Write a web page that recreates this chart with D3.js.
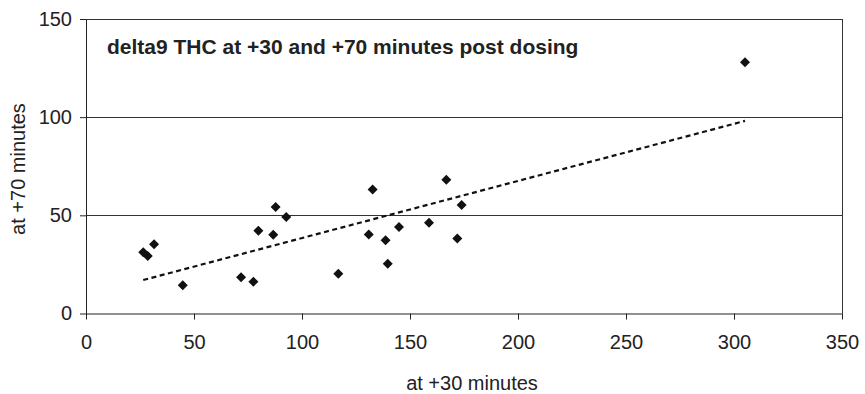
<!DOCTYPE html>
<html>
<head>
<meta charset="utf-8">
<script src="https://cdn.jsdelivr.net/npm/d3@7"></script>
<style>
  body { margin: 0; background: #fff; }
  text { font-family: "Liberation Sans", Arial, sans-serif; fill: #222; }
</style>
</head>
<body>
<div id="chart"></div>
<script>
// values
const at30 = [26.5, 28.6, 31.5, 44.8, 71.8, 77.5, 79.8, 86.7, 87.8, 92.7, 116.8,
  130.9, 132.7, 138.7, 139.7, 144.9, 158.8, 166.8, 171.9, 173.9, 305.1]
const at70 = [31.2, 29.3, 35.3, 14.4, 18.5, 16.2, 42.2, 40.1, 54.2, 49.2, 20.3,
  40.2, 63.2, 37.3, 25.3, 44.1, 46.2, 68.1, 38.2, 55.2, 128.0]
const xTicks = [0, 50, 100, 150, 200, 250, 300, 350]
const yTicks = [0, 50, 100, 150]
const title = "delta9 THC at +30 and +70 minutes post dosing"

const W = 865, H = 394
const margin = {top: 19, right: 23, bottom: 80.5, left: 86}
const innerW = W - margin.left - margin.right
  , innerH = H - margin.top - margin.bottom

const svg = d3.select("#chart").append("svg")
  .attr("width", W)
  .attr("height", H)

const g = svg.append("g")
  .attr("transform", `translate(${margin.left},${margin.top})`)

const x = d3.scaleLinear().domain([0, 350]).range([0, innerW])
const y = d3.scaleLinear().domain([0, 150]).range([innerH, 0])

// gridlines
g.selectAll(".grid")
  .data(yTicks.filter(d => d > 0))
  .enter().append("line")
  .attr("x1", 0).attr("x2", innerW)
  .attr("y1", d => Math.round(y(d)) + 0.5)
  .attr("y2", d => Math.round(y(d)) + 0.5)
  .style("stroke", "#333")
  .style("stroke-width", 1)

// right border
g.append("line")
  .attr("x1", innerW + 0.5).attr("x2", innerW + 0.5)
  .attr("y1", 0).attr("y2", innerH)
  .style("stroke", "#333")

// axes
const xAxis = g.append("g")
  .attr("transform", `translate(0,${innerH})`)
  .call(d3.axisBottom(x).tickValues(xTicks).tickSize(6).tickSizeOuter(0).tickPadding(15))
const yAxis = g.append("g")
  .call(d3.axisLeft(y).tickValues(yTicks).tickSize(6).tickSizeOuter(0).tickPadding(8))

svg.selectAll(".domain, .tick line").style("stroke", "#222")
svg.selectAll(".tick text")
  .style("font-family", "'Liberation Sans', Arial, sans-serif")
  .style("font-size", "20px")
  .style("fill", "#222")

// trendline (least squares)
const n = at30.length
  , mx = d3.mean(at30)
  , my = d3.mean(at70)
let sxy = 0, sxx = 0
for (let i = 0; i < n; i++) {
  sxy += (at30[i] - mx) * (at70[i] - my)
  sxx += (at30[i] - mx) * (at30[i] - mx)
}
const slope = sxy / sxx
  , intercept = my - slope * mx
const [xmin, xmax] = d3.extent(at30)

g.append("line")
  .attr("x1", x(xmin)).attr("y1", y(intercept + slope * xmin))
  .attr("x2", x(xmax)).attr("y2", y(intercept + slope * xmax))
  .style("stroke", "#111")
  .style("stroke-width", 2.2)
  .style("stroke-dasharray", "5,3.5")

// points
const diamond = d3.symbol().type(d3.symbolSquare).size(50)
g.selectAll(".pt")
  .data(d3.range(n))
  .enter().append("path")
  .attr("class", "pt")
  .attr("d", diamond)
  .attr("transform", i => `translate(${x(at30[i])},${y(at70[i])}) rotate(45)`)
  .style("fill", "#111")

// title inside the plot
g.append("text")
  .attr("x", 21)
  .attr("y", 34.5)
  .style("font-size", "21px")
  .style("font-weight", "bold")
  .style("fill", "#222")
  .text(title)

// axis titles
svg.append("text")
  .attr("x", 472)
  .attr("y", 390)
  .attr("text-anchor", "middle")
  .style("font-size", "20px")
  .text("at +30 minutes")

svg.append("text")
  .attr("transform", "translate(25,169) rotate(-90)")
  .attr("text-anchor", "middle")
  .style("font-size", "20px")
  .text("at +70 minutes")
</script>
</body>
</html>
